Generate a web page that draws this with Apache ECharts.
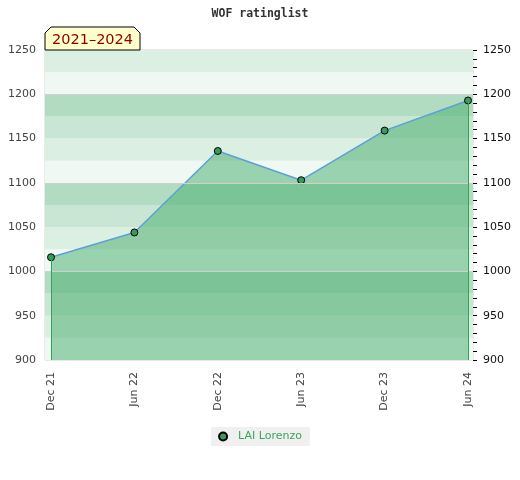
<!DOCTYPE html>
<html>
<head>
<meta charset="utf-8">
<script src="https://cdn.jsdelivr.net/npm/echarts@6/dist/echarts.min.js"></script>
<style>html,body{margin:0;padding:0;background:#fff}#c{width:520px;height:480px}</style>
</head>
<body>
<div id="c"></div>
<script>
var categories = ['Dec 21', 'Jun 22', 'Dec 22', 'Jun 23', 'Dec 23', 'Jun 24'];
var ratings = [1016, 1044, 1136, 1103, 1159, 1193];
var seriesName = 'LAI Lorenzo';
var periodLabel = '2021\u20132024';
var titleText = 'WOF ratinglist';
var yMin = 900, yMax = 1250, yStep = 50;

var bandColors = ['#eff8f2', '#dcefe3', '#c8e6d3', '#b2dcc1'];
var bands = [];
for (var v = yMin; v < yMax; v += 25) {
  var k = ((v - yMin) / 25) % 4;
  bands.push([{ yAxis: v, itemStyle: { color: bandColors[k] } }, { yAxis: v + 25 }]);
}
var gridLines = [];
for (var g = yMin + 100; g < yMax; g += 100) gridLines.push({ yAxis: g });
function plain(v) { return String(v); }

var chart = echarts.init(document.getElementById('c'), null, { renderer: 'canvas' });
chart.setOption({
  animation: false,
  backgroundColor: '#fff',
  title: {
    text: titleText, left: 'center', top: 3,
    textStyle: { fontFamily: 'DejaVu Sans Mono', fontWeight: 'bold', fontSize: 11.5, color: '#333' }
  },
  graphic: [{
    type: 'polygon', z: 100,
    shape: { points: [[45, 50], [45, 33], [51, 27], [134, 27], [140, 33], [140, 50]] },
    style: { fill: '#ffffcc', stroke: '#000', lineWidth: 1 }
  }, {
    type: 'text', z: 101, x: 92.5, y: 40.5,
    style: { text: periodLabel, fill: '#8b0000', font: '14.5px "DejaVu Sans"', align: 'center', verticalAlign: 'middle' }
  }],
  legend: {
    data: [seriesName], bottom: 34, left: 'center',
    backgroundColor: '#f0f0f0', padding: [4, 8, 4, 7],
    itemWidth: 8, itemHeight: 8, itemGap: 10, icon: 'circle',
    textStyle: { color: '#3aa45a', fontFamily: 'DejaVu Sans', fontSize: 11, padding: [0, 0, 0, 6] }
  },
  grid: [
    { left: 45, right: 47, top: 50, bottom: 120, show: true, borderColor: '#d4d4d4', borderWidth: 1, backgroundColor: 'transparent' },
    { left: 51, right: 52, top: 50, bottom: 120 }
  ],
  xAxis: [
    { type: 'value', gridIndex: 0, min: 0, max: 1, show: false },
    {
      type: 'category', gridIndex: 1, data: categories, boundaryGap: false,
      axisLine: { show: false }, axisTick: { show: false }, splitLine: { show: false },
      axisLabel: { rotate: 90, margin: 12, color: '#444', fontFamily: 'DejaVu Sans', fontSize: 11 }
    }
  ],
  yAxis: [
    {
      type: 'value', gridIndex: 0, position: 'left', min: yMin, max: yMax, interval: yStep,
      axisLine: { show: false }, axisTick: { show: false }, splitLine: { show: false },
      axisLabel: { margin: 9, color: '#444', fontFamily: 'DejaVu Sans', fontSize: 11, formatter: plain }
    },
    {
      type: 'value', gridIndex: 0, position: 'right', min: yMin, max: yMax, interval: yStep,
      axisLine: { show: false },
      axisTick: { show: true, length: 4, lineStyle: { color: '#000' } },
      minorTick: { show: true, splitNumber: 5, length: 4, lineStyle: { color: '#000' } },
      splitLine: { show: false },
      axisLabel: { margin: 10, color: '#111', fontFamily: 'DejaVu Sans', fontSize: 11, formatter: plain }
    },
    { type: 'value', gridIndex: 1, min: yMin, max: yMax, show: false }
  ],
  series: [
    {
      type: 'line', xAxisIndex: 0, yAxisIndex: 0, silent: true,
      data: [[0, yMin], [1, yMin]], showSymbol: false, lineStyle: { width: 0, opacity: 0 },
      markArea: { silent: true, data: bands },
      markLine: { silent: true, symbol: 'none', label: { show: false }, lineStyle: { color: '#d0d0d0', width: 1, type: 'solid' }, data: gridLines }
    },
    {
      name: seriesName, type: 'line', xAxisIndex: 1, yAxisIndex: 2,
      data: ratings, symbol: 'circle', symbolSize: 7,
      itemStyle: { color: '#3a9a5c', borderColor: '#000', borderWidth: 1 },
      lineStyle: { color: '#5c9fd9', width: 1.5 },
      areaStyle: { color: 'rgba(68,172,105,0.5)', opacity: 1, origin: 'start' },
      markLine: {
        silent: true, symbol: 'none', label: { show: false }, z: 5,
        lineStyle: { color: '#2fa653', width: 1, type: 'solid' },
        data: [
          [{ coord: [categories[0], ratings[0]] }, { coord: [categories[0], yMin] }],
          [{ coord: [categories[categories.length - 1], ratings[ratings.length - 1]] }, { coord: [categories[categories.length - 1], yMin] }]
        ]
      },
      z: 3
    }
  ]
});
</script>
</body>
</html>
